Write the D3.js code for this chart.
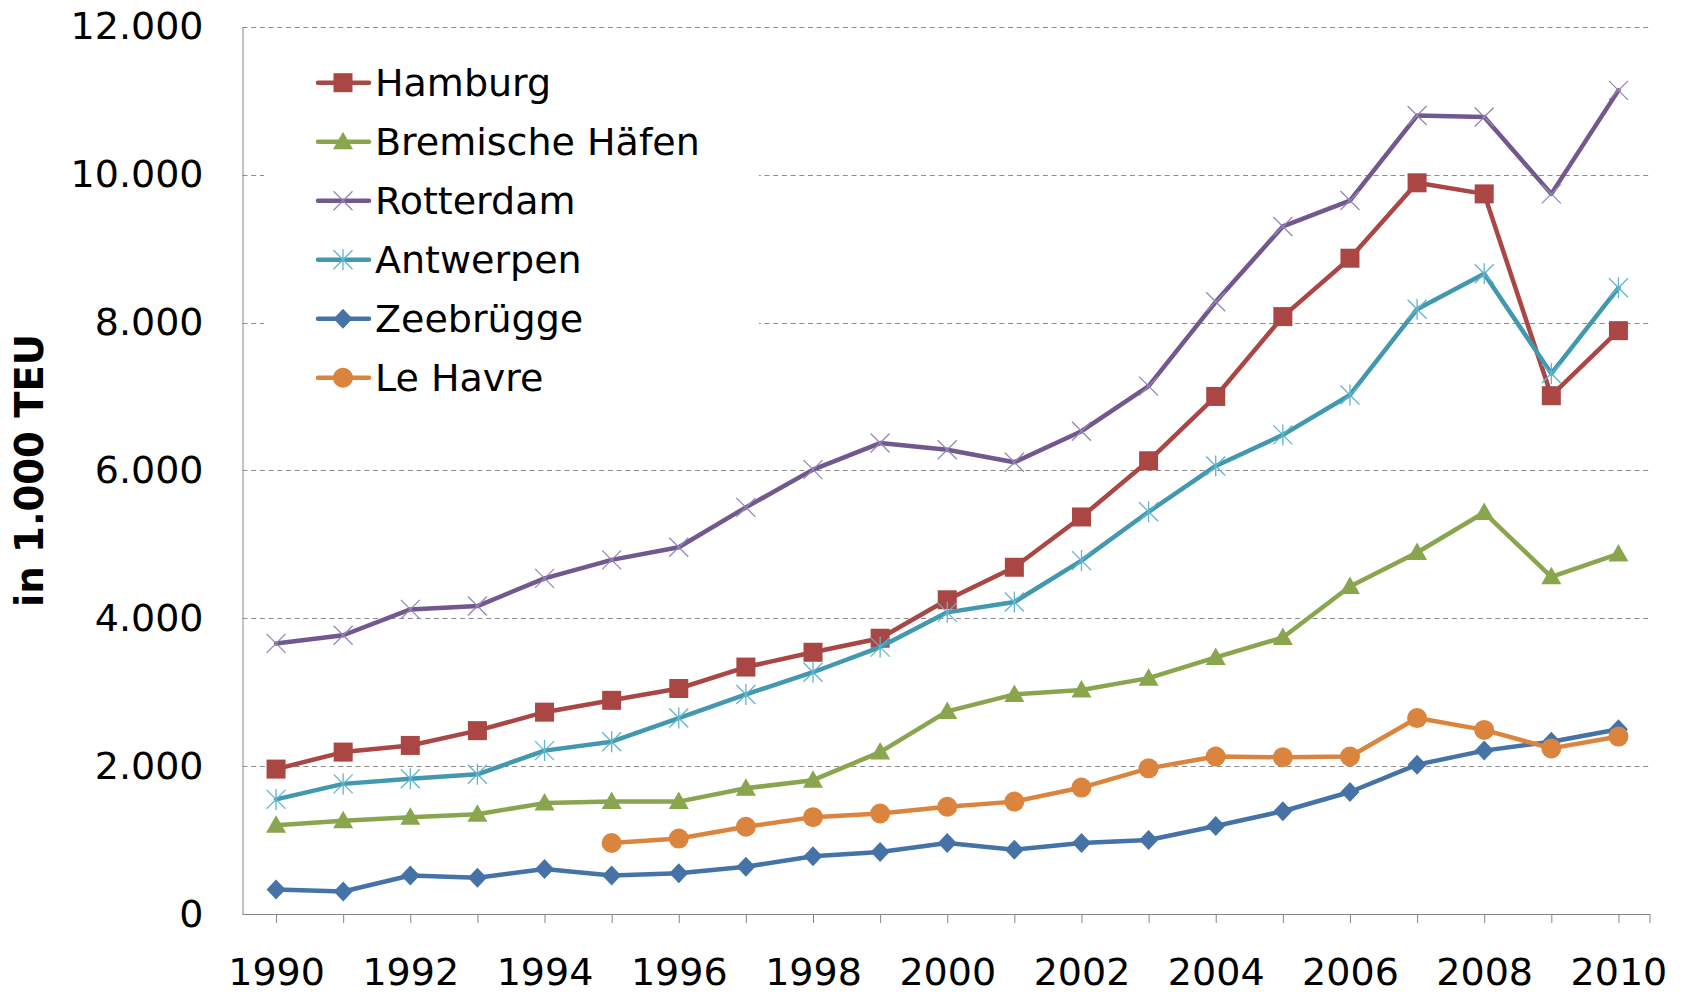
<!DOCTYPE html>
<html>
<head>
<meta charset="utf-8">
<script src="https://cdn.jsdelivr.net/npm/d3@7/dist/d3.min.js"></script>
<style>
  html, body { margin: 0; padding: 0; background: #fff; }
  svg { display: block; }
  text { font-family: "DejaVu Sans", Verdana, sans-serif; fill: #000; }
</style>
</head>
<body>
<svg id="chart" width="1682" height="995"></svg>
<script>
// ---- data (values in 1.000 TEU) ----
const years = [1990,1991,1992,1993,1994,1995,1996,1997,1998,1999,2000,2001,2002,2003,2004,2005,2006,2007,2008,2009,2010];
const hamburg   = [1960,2190,2280,2480,2730,2890,3050,3340,3540,3730,4250,4690,5370,6130,7000,8080,8870,9890,9740,7010,7890];
const bremen    = [1200,1260,1310,1350,1500,1520,1520,1700,1810,2190,2740,2970,3030,3190,3470,3740,4430,4890,5430,4560,4870];
const rotterdam = [3660,3770,4120,4165,4540,4790,4960,5500,6010,6370,6280,6110,6530,7140,8280,9300,9650,10800,10780,9740,11140];
const antwerpen = [1550,1760,1830,1890,2210,2330,2650,2970,3270,3610,4080,4220,4780,5440,6060,6480,7020,8180,8660,7310,8470];
const zeebrugge = [330,305,520,490,610,520,550,640,780,840,960,870,960,1000,1190,1390,1650,2020,2210,2330,2500];
const lehavre   = [null,null,null,null,null,960,1020,1180,1310,1360,1450,1520,1710,1970,2130,2120,2130,2650,2490,2240,2400];
const seriesNames = ["Hamburg","Bremische Häfen","Rotterdam","Antwerpen","Zeebrügge","Le Havre"];
const yTicks = [0,2000,4000,6000,8000,10000,12000];
const xTickLabels = [1990,1992,1994,1996,1998,2000,2002,2004,2006,2008,2010];
const yTitle = "in 1.000 TEU";

const series = [
  {name: seriesNames[0], values: hamburg,   color: "#AA4643", mcolor: "#AA4643", marker: "square"},
  {name: seriesNames[1], values: bremen,    color: "#89A54E", mcolor: "#89A54E", marker: "triangle"},
  {name: seriesNames[2], values: rotterdam, color: "#71588F", mcolor: "#9787B5", marker: "x"},
  {name: seriesNames[3], values: antwerpen, color: "#4198AF", mcolor: "#5FB5CC", marker: "star"},
  {name: seriesNames[4], values: zeebrugge, color: "#4572A7", mcolor: "#4572A7", marker: "diamond"},
  {name: seriesNames[5], values: lehavre,   color: "#DB843D", mcolor: "#DB843D", marker: "circle"}
];

// ---- layout ----
const svg = d3.select("#chart");
const pLeft = 242.5, pRight = 1650, pTop = 26.8, pBottom = 914;
const x = d3.scalePoint().domain(years).range([pLeft, pRight + 2]).padding(0.5);
const y = d3.scaleLinear().domain([0, 12000]).range([pBottom, pTop]);

const fontSize = 38;

// gridlines
svg.append("g").selectAll("line")
  .data(yTicks.filter(d => d > 0))
  .join("line")
  .attr("x1", pLeft).attr("x2", pRight)
  .attr("y1", d => Math.round(y(d)) + 0.5).attr("y2", d => Math.round(y(d)) + 0.5)
  .attr("stroke", "#8c8c8c").attr("stroke-width", 1)
  .attr("stroke-dasharray", "5,3.7");

// legend background box (covers gridlines)
svg.append("rect")
  .attr("x", 264).attr("y", 46).attr("width", 495).attr("height", 366)
  .attr("fill", "#fff");

// y axis
const yAxis = d3.axisLeft(y).tickValues(yTicks).tickSize(0).tickPadding(39)
  .tickFormat(d => d3.format(",")(d).replace(/,/g, "."));
const gy = svg.append("g").attr("transform", `translate(${pLeft},0)`).call(yAxis);
gy.select(".domain").attr("stroke", "#868686").attr("stroke-width", 1);
gy.selectAll("text").attr("font-size", fontSize)
  .attr("font-family", '"DejaVu Sans", Verdana, sans-serif').attr("fill", "#000");

// x axis
const xAxis = d3.axisBottom(x).tickSizeInner(9).tickSizeOuter(0).tickPadding(35)
  .tickFormat(d => xTickLabels.includes(d) ? d : "");
const gx = svg.append("g").attr("transform", `translate(0,${pBottom})`).call(xAxis);
gx.select(".domain").attr("stroke", "#868686").attr("d", `M${pLeft},0.5H${pRight}`);
gx.selectAll(".tick line").attr("stroke", "#868686");
gx.selectAll("text").attr("font-size", fontSize)
  .attr("font-family", '"DejaVu Sans", Verdana, sans-serif').attr("fill", "#000");
gx.append("line").attr("x1", pRight).attr("x2", pRight).attr("y1", 0).attr("y2", 9).attr("stroke", "#868686");

// y title
svg.append("text")
  .attr("transform", `translate(29,${(pTop + pBottom) / 2}) rotate(-90)`)
  .attr("text-anchor", "middle").attr("dominant-baseline", "central")
  .attr("font-size", 38.5).attr("font-weight", "bold")
  .text(yTitle);

// marker drawing
function drawMarker(g, type, cx, cy, color) {
  const h = 9.5;
  if (type === "square") {
    g.append("rect").attr("x", cx - h).attr("y", cy - h).attr("width", 2 * h).attr("height", 2 * h).attr("fill", color);
  } else if (type === "triangle") {
    g.append("path").attr("d", `M${cx},${cy - 10}L${cx + 10},${cy + 7.5}L${cx - 10},${cy + 7.5}Z`).attr("fill", color);
  } else if (type === "diamond") {
    g.append("path").attr("d", `M${cx},${cy - 10}L${cx + 9.5},${cy}L${cx},${cy + 10}L${cx - 9.5},${cy}Z`).attr("fill", color);
  } else if (type === "circle") {
    g.append("circle").attr("cx", cx).attr("cy", cy).attr("r", 10).attr("fill", color);
  } else if (type === "x") {
    g.append("path").attr("d", `M${cx - h},${cy - h}L${cx + h},${cy + h}M${cx - h},${cy + h}L${cx + h},${cy - h}`)
      .attr("stroke", color).attr("stroke-width", 1.3).attr("fill", "none");
  } else if (type === "star") {
    g.append("path").attr("d", `M${cx - h},${cy - h}L${cx + h},${cy + h}M${cx - h},${cy + h}L${cx + h},${cy - h}M${cx},${cy - h - 1}L${cx},${cy + h + 1}`)
      .attr("stroke", color).attr("stroke-width", 1.3).attr("fill", "none");
  }
}

// series
const line = d3.line()
  .defined(d => d.v !== null)
  .x(d => x(d.year)).y(d => y(d.v));

series.forEach(s => {
  const pts = years.map((yr, i) => ({year: yr, v: s.values[i]}));
  const g = svg.append("g");
  g.append("path").datum(pts).attr("d", line)
    .attr("fill", "none").attr("stroke", s.color).attr("stroke-width", 4.5)
    .attr("stroke-linejoin", "round").attr("stroke-linecap", "round");
  pts.filter(p => p.v !== null).forEach(p => drawMarker(g, s.marker, x(p.year), y(p.v), s.mcolor));
});

// legend
const legendY0 = 82.7, legendStep = 59;
series.forEach((s, i) => {
  const ly = legendY0 + i * legendStep;
  const g = svg.append("g");
  g.append("line").attr("x1", 318).attr("x2", 369).attr("y1", ly).attr("y2", ly)
    .attr("stroke", s.color).attr("stroke-width", 4.5).attr("stroke-linecap", "round");
  drawMarker(g, s.marker, 343, ly, s.mcolor);
  g.append("text").attr("x", 375).attr("y", ly).attr("dominant-baseline", "central")
    .attr("font-size", fontSize).text(s.name);
});
</script>
</body>
</html>
